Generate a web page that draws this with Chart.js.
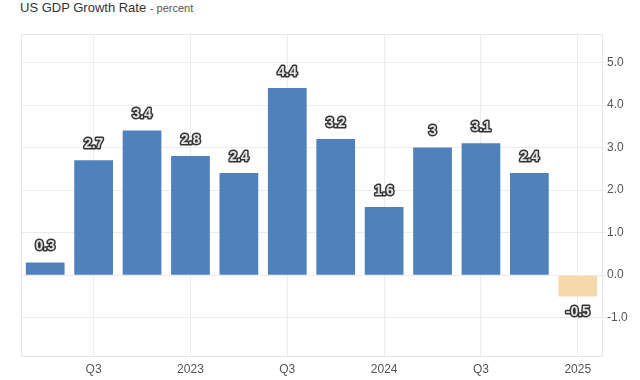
<!DOCTYPE html>
<html>
<head>
<meta charset="utf-8">
<script src="https://cdn.jsdelivr.net/npm/chart.js@4/dist/chart.umd.min.js"></script>
<style>
  html, body { margin: 0; padding: 0; background: #fff; }
  #wrap { position: relative; width: 640px; height: 380px; }
  #title { position: absolute; left: 20px; top: 0px; font-family: "Liberation Sans", Arial, sans-serif; font-size: 13px; color: #333; line-height: 16px; white-space: nowrap; }
  #title span { font-size: 11px; color: #555; }
  canvas { position: absolute; left: 0; top: 0; }
</style>
</head>
<body>
<div id="wrap">
  <div id="title">US GDP Growth Rate <span>- percent</span></div>
  <canvas id="c" width="640" height="380"></canvas>
</div>
<script>
const categories = ['2022 Q2','2022 Q3','2022 Q4','2023 Q1','2023 Q2','2023 Q3','2023 Q4','2024 Q1','2024 Q2','2024 Q3','2024 Q4','2025 Q1'];
const tickLabels = ['', 'Q3', '', '2023', '', 'Q3', '', '2024', '', 'Q3', '', '2025'];
const gdpGrowth = [0.3, 2.7, 3.4, 2.8, 2.4, 4.4, 3.2, 1.6, 3, 3.1, 2.4, -0.5];
const yTicks = [-1, 0, 1, 2, 3, 4, 5];

const FONT = '"Liberation Sans", Arial, sans-serif';

const framePlugin = {
  id: 'frame',
  beforeDatasetsDraw(chart) {
    const a = chart.chartArea, ctx = chart.ctx;
    ctx.save();
    ctx.strokeStyle = '#e6e6e6';
    ctx.lineWidth = 1;
    ctx.beginPath();
    ctx.moveTo(Math.round(a.left) + 0.5, a.bottom);
    ctx.lineTo(Math.round(a.left) + 0.5, a.top);
    ctx.moveTo(a.left, Math.round(a.top) + 0.5);
    ctx.lineTo(a.right, Math.round(a.top) + 0.5);
    ctx.stroke();
    ctx.restore();
  }
};

const labelPlugin = {
  id: 'valueLabels',
  afterDatasetsDraw(chart) {
    const ctx = chart.ctx;
    const meta = chart.getDatasetMeta(0);
    ctx.save();
    ctx.font = 'bold 14px ' + FONT;
    ctx.textAlign = 'center';
    ctx.textBaseline = 'middle';
    ctx.lineJoin = 'round';
    meta.data.forEach((bar, i) => {
      const v = gdpGrowth[i];
      const txt = String(v);
      const y = v >= 0 ? bar.y - 16 : bar.y + 16;
      ctx.lineWidth = 3;
      ctx.strokeStyle = '#333';
      ctx.strokeText(txt, bar.x, y);
      ctx.fillStyle = '#e2e2e2';
      ctx.fillText(txt, bar.x, y);
    });
    ctx.restore();
  }
};

new Chart(document.getElementById('c'), {
  type: 'bar',
  data: {
    labels: categories,
    datasets: [{
      data: gdpGrowth,
      backgroundColor: (ctx) => (gdpGrowth[ctx.dataIndex] < 0 ? '#f5d9ab' : '#4f81bd'),
      borderWidth: 0,
      categoryPercentage: 0.8,
      barPercentage: 1.0
    }]
  },
  options: {
    responsive: false,
    animation: false,
    devicePixelRatio: 1,
    layout: { padding: { top: 34, left: 21, right: 0, bottom: 0 } },
    plugins: { legend: { display: false }, tooltip: { enabled: false }, title: { display: false } },
    scales: {
      x: {
        offset: true,
        grid: {
          offset: false,
          drawTicks: false,
          color: (ctx) => (ctx.index !== undefined && tickLabels[ctx.index] ? '#ececec' : 'rgba(0,0,0,0)')
        },
        border: { display: true, color: '#e6e6e6' },
        ticks: {
          autoSkip: false,
          maxRotation: 0,
          padding: 6,
          color: '#555',
          font: { family: FONT, size: 12 },
          callback: (val, idx) => tickLabels[idx]
        },
        afterFit: (scale) => { scale.height = 24; }
      },
      y: {
        position: 'right',
        min: -1.9,
        max: 5.67,
        afterBuildTicks: (scale) => { scale.ticks = yTicks.map(v => ({ value: v })); },
        grid: { color: '#ececec', tickLength: 4 },
        border: { display: true, color: '#e6e6e6' },
        ticks: {
          padding: 1,
          color: '#555',
          font: { family: FONT, size: 12 },
          callback: (v) => Number(v).toFixed(1)
        },
        afterFit: (scale) => { scale.width = 38; }
      }
    }
  },
  plugins: [framePlugin, labelPlugin]
});
</script>
</body>
</html>
